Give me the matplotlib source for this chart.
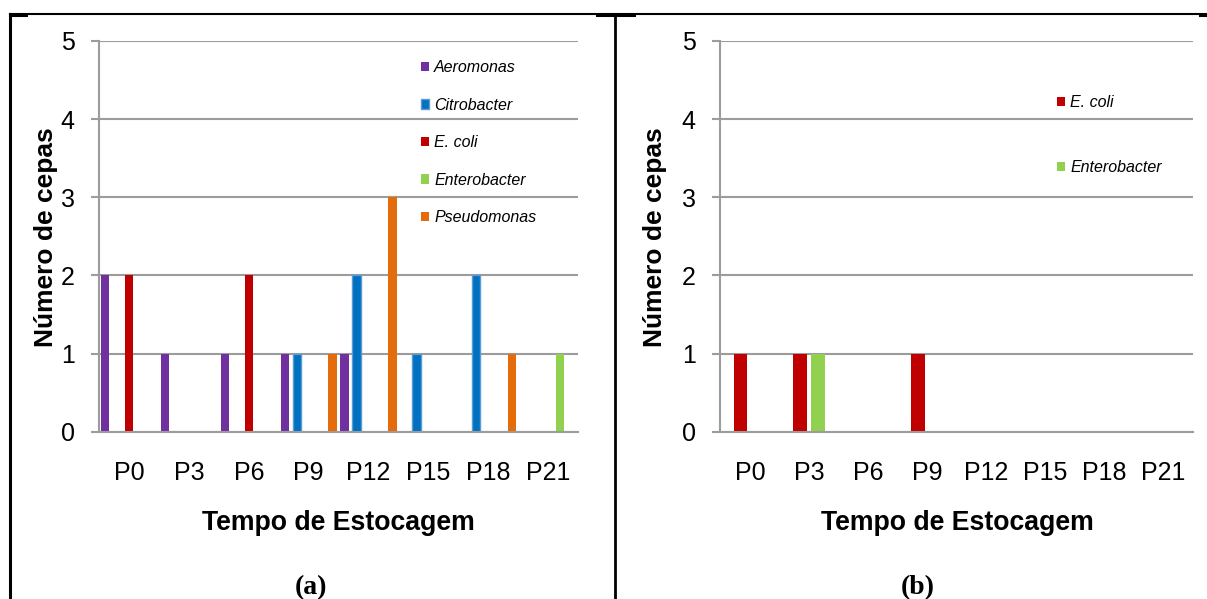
import numpy as np
import matplotlib
matplotlib.use('Agg')
import matplotlib.pyplot as plt
from matplotlib.lines import Line2D

plt.rcParams['font.family'] = ['Liberation Sans', 'DejaVu Sans']

tempos = ['P0', 'P3', 'P6', 'P9', 'P12', 'P15', 'P18', 'P21']

# (a) cepas por genero
aeromonas = [2, 1, 1, 1, 1, 0, 0, 0]
citrobacter = [0, 0, 0, 1, 2, 1, 2, 0]
ecoli_a = [2, 0, 2, 0, 0, 0, 0, 0]
enterobacter_a = [0, 0, 0, 0, 0, 0, 0, 1]
pseudomonas = [0, 0, 0, 1, 3, 0, 1, 0]

# (b)
ecoli_b = [1, 1, 0, 1, 0, 0, 0, 0]
enterobacter_b = [0, 1, 0, 0, 0, 0, 0, 0]

cor = {'Aeromonas': '#7030A0', 'Citrobacter': '#0070C0', 'E. coli': '#C00000',
       'Enterobacter': '#92D050', 'Pseudomonas': '#E46C0A'}
borda = {'Citrobacter': '#5B9BD5'}

W, H = 1207, 599
fig = plt.figure(figsize=(W / 100, H / 100), dpi=100)
grade = '#9C9C9C'


def px(x, y):
    return x / W, 1 - y / H


def eixo(left_px, right_px):
    x0, y1 = px(left_px, 41)
    x1, y0 = px(right_px, 431.7)
    ax = fig.add_axes([x0, y0, x1 - x0, y1 - y0])
    ax.set_xlim(-0.5, 7.5)
    ax.set_ylim(0, 5)
    ax.set_yticks(range(6))
    ax.set_xticks(np.arange(8))
    ax.set_xticklabels(tempos)
    ax.grid(axis='y', color=grade, linewidth=1.5)
    ax.set_axisbelow(True)
    for s in ['top', 'right']:
        ax.spines[s].set_visible(False)
    for s in ['left', 'bottom']:
        ax.spines[s].set_color(grade)
        ax.spines[s].set_linewidth(1.5)
    ax.tick_params(axis='y', length=5.8, width=1.5, color=grade, pad=12, labelsize=18)
    ax.tick_params(axis='x', length=0, pad=21, labelsize=18)
    return ax


def barras(ax, series, slot, larg):
    n = len(series)
    x = np.arange(len(tempos))
    for i, (nome, vals) in enumerate(series):
        off = (i - (n - 1) / 2) * slot
        ec = borda.get(nome, cor[nome])
        ax.bar(x + off, vals, larg, color=cor[nome], edgecolor=ec,
               linewidth=1.0 if nome in borda else 0, label=nome)


# (a)
ax1 = eixo(99.3, 578)
barras(ax1, [('Aeromonas', aeromonas), ('Citrobacter', citrobacter),
             ('E. coli', ecoli_a), ('Enterobacter', enterobacter_a),
             ('Pseudomonas', pseudomonas)], 0.2, 0.14)
ax1.legend(loc='upper left', bbox_to_anchor=px(421, 60.2), bbox_transform=fig.transFigure,
           frameon=False, borderpad=0, borderaxespad=0, handlelength=0.52,
           handleheight=0.52, handletextpad=0.3, labelspacing=1.41,
           prop={'style': 'italic', 'size': 11.5})

# (b)
ax2 = eixo(720.3, 1192.7)
barras(ax2, [('E. coli', ecoli_b), ('Enterobacter', enterobacter_b)], 0.31, 0.23)
ax2.legend(loc='upper left', bbox_to_anchor=px(1057, 95.3), bbox_transform=fig.transFigure,
           frameon=False, borderpad=0, borderaxespad=0, handlelength=0.52,
           handleheight=0.52, handletextpad=0.3, labelspacing=3.14,
           prop={'style': 'italic', 'size': 11.5})

# titulos dos eixos
for xc, yc in [(46.5, 237), (654.5, 237)]:
    fig.text(*px(xc, yc), 'Número de cepas', rotation=90, ha='center', va='center',
             fontsize=19, fontweight='bold')
for xc in [338, 957]:
    fig.text(*px(xc, 523), 'Tempo de Estocagem', ha='center', va='center',
             fontsize=19.2, fontweight='bold')
for xc, lab in [(311, '(a)'), (918, '(b)')]:
    fig.text(*px(xc, 587.5), lab, ha='center', va='center', fontsize=20,
             fontweight='bold', family=['Liberation Serif', 'DejaVu Serif'])

# moldura da tabela
linhas = [((10, 1207), (14, 14), 1.5), ((10, 10), (14, 599), 2.2),
          ((614.7, 614.7), (14, 599), 2.0), ((10, 26), (14.8, 14.8), 2.2),
          ((597, 634), (14.8, 14.8), 2.2), ((1200, 1207), (14.8, 14.8), 2.2)]
for xs, ys, lw in linhas:
    fig.add_artist(Line2D([x / W for x in xs], [1 - y / H for y in ys],
                          color='black', linewidth=lw, transform=fig.transFigure))

fig.savefig('out.png', dpi=100)
